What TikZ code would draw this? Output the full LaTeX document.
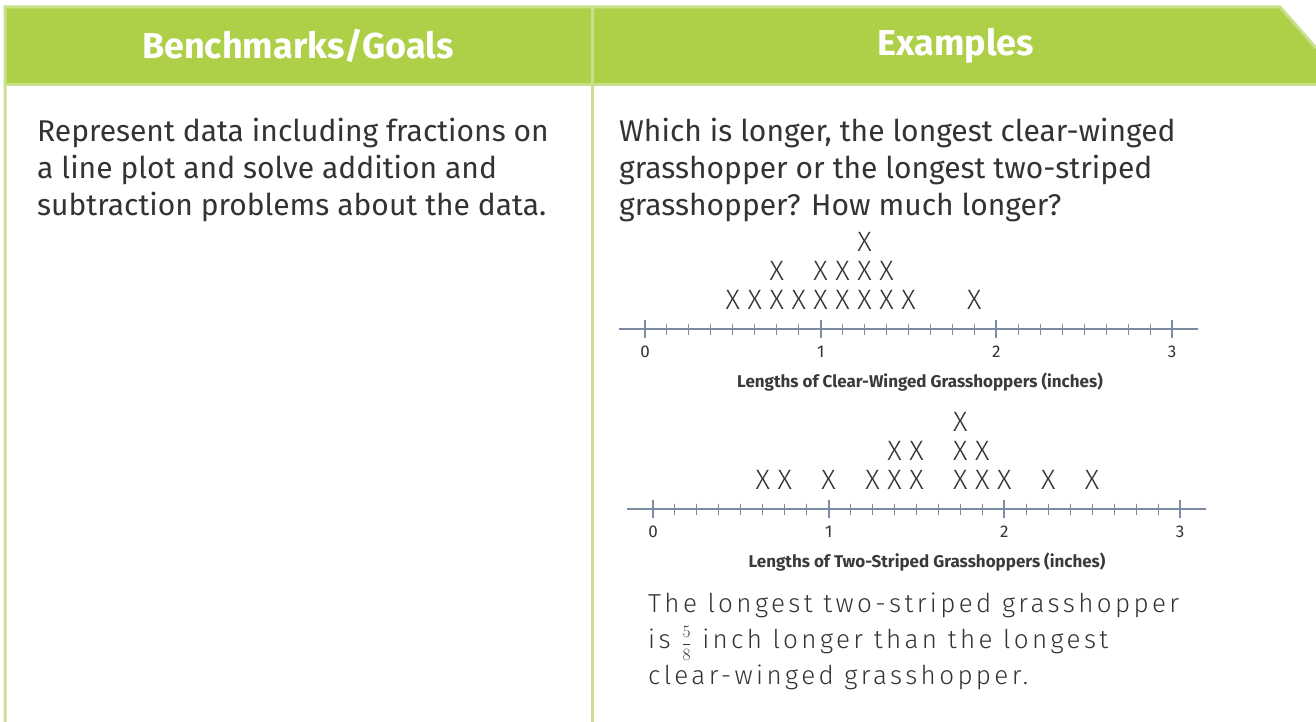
\documentclass[tikz,border=0pt]{standalone}
\usepackage{fontspec}
\usepackage{amsmath}
\setmainfont{Fira Sans}
\newfontfamily\handfont[UprightFont={* Light}, LetterSpace=13]{Fira Sans}
\newfontfamily\markfont[UprightFont={* Light}]{Fira Sans}
\definecolor{hdrgreen}{HTML}{AED048}
\definecolor{rulegreen}{HTML}{C8E08C}
\definecolor{axisgray}{HTML}{7C8CA0}
\definecolor{ink}{HTML}{333333}
\definecolor{capgray}{HTML}{3A3A3A}
\definecolor{markgray}{HTML}{333333}

\begin{document}
\begin{tikzpicture}[x=1pt, y=-1pt,
  hdr/.style={font=\fontsize{36}{40}\selectfont\bfseries, text=white},
  body/.style={font=\fontsize{30}{37}\selectfont, text=ink,
    align=left, anchor=north west, inner sep=0pt},
  rule/.style={rulegreen, line width=3pt},
  axis/.style={axisgray, line width=2pt},
  major/.style={axisgray, line width=2pt},
  minor/.style={axisgray, line width=1pt},
  num/.style={font=\fontsize{17}{17}\selectfont, text=ink},
  plotcap/.style={font=\fontsize{17}{17}\selectfont\bfseries, text=capgray},
  xmark/.style={font=\markfont\fontsize{28}{28}\selectfont, text=markgray, inner sep=0pt},
  hand/.style={font=\handfont\fontsize{26}{36}\selectfont, text=ink,
    align=left, anchor=north west, inner sep=0pt}
]
\useasboundingbox (0,0) rectangle (1316,722);
\def\unit{175.67} % one inch on both plots
\def\rowgap{29}   % vertical step between stacked marks

% --- Table frame ---
\fill[hdrgreen] (5,7) -- (1280,7) -- (1316,48) -- (1316,84) -- (5,84) -- cycle;
\draw[rule] (5,722) -- (5,7) -- (1280,7) -- (1316,48);
\draw[rule] (5,85) -- (1316,85);
\draw[rule] (592,7) -- (592,722);

\node[hdr] (hdrL) at (298,46) {Benchmarks/Goals};
\node[hdr] (hdrR) at (956,46) {Examples};

% --- Left column ---
\node[body] (goal) at (37,118) {Represent data including fractions on\\
  a line plot and solve addition and\\
  subtraction problems about the data.};

% --- Right column ---
\node[body] (quest) at (619,118) {Which is longer, the longest clear-winged\\
  grasshopper or the longest two-striped\\
  grasshopper? How much longer?};

% --- Clear-winged plot ---
\coordinate (cw0) at (645,329);
\coordinate (cwL) at ([xshift=-26pt]cw0);
\coordinate (cwR) at ([xshift={3*\unit+26}]cw0);
\draw[axis] (cwL) -- (cwR);
\foreach \k in {0,...,24}
  \draw[minor] ([xshift=\k*\unit/8, yshift=5.5]cw0) -- ([xshift=\k*\unit/8, yshift=-5.5]cw0);
\foreach \n in {0,...,3} {
  \draw[major] ([xshift=\n*\unit, yshift=9]cw0) -- ([xshift=\n*\unit, yshift=-9]cw0);
  \node[num] (cwn\n) at ([xshift=\n*\unit, yshift=-23]cw0) {\n};
}
\foreach \e/\r [count=\i] in {4/1,5/1,6/1,6/2,7/1,8/1,8/2,9/1,9/2,10/1,10/2,10/3,11/1,11/2,12/1,15/1}
  \node[xmark] (cwx\i) at ([xshift=\e*\unit/8, yshift=\r*\rowgap]cw0) {X};
\node[plotcap] (cwcap) at (920,382) {Lengths of Clear-Winged Grasshoppers (inches)};

% --- Two-striped plot ---
\coordinate (ts0) at (653,509);
\coordinate (tsL) at ([xshift=-26pt]ts0);
\coordinate (tsR) at ([xshift={3*\unit+26}]ts0);
\draw[axis] (tsL) -- (tsR);
\foreach \k in {0,...,24}
  \draw[minor] ([xshift=\k*\unit/8, yshift=5.5]ts0) -- ([xshift=\k*\unit/8, yshift=-5.5]ts0);
\foreach \n in {0,...,3} {
  \draw[major] ([xshift=\n*\unit, yshift=9]ts0) -- ([xshift=\n*\unit, yshift=-9]ts0);
  \node[num] (tsn\n) at ([xshift=\n*\unit, yshift=-23]ts0) {\n};
}
\foreach \e/\r [count=\i] in {5/1,6/1,8/1,10/1,11/1,11/2,12/1,12/2,14/1,14/2,14/3,15/1,15/2,16/1,18/1,20/1}
  \node[xmark] (tsx\i) at ([xshift=\e*\unit/8, yshift=\r*\rowgap]ts0) {X};
\node[plotcap] (tscap) at (927,562) {Lengths of Two-Striped Grasshoppers (inches)};

% --- Written answer ---
\node[hand] (answer) at (648,593) {The longest two-striped grasshopper\\
  is {\fontsize{16}{16}\selectfont$\genfrac{}{}{0.6pt}{0}{5}{8}$} inch longer than the longest\\
  clear-winged grasshopper.};

\end{tikzpicture}
\end{document}
